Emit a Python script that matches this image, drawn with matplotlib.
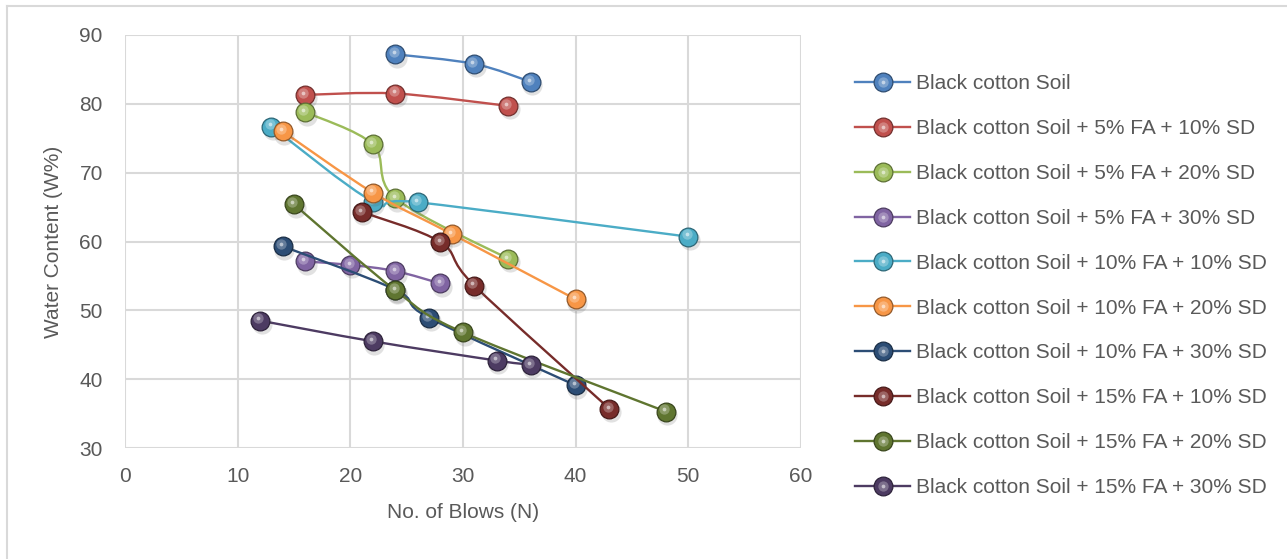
import matplotlib
matplotlib.use('Agg')
import matplotlib.pyplot as plt
import matplotlib.colors as mcolors
import matplotlib.transforms as mtransforms
from matplotlib.path import Path
from matplotlib.patches import PathPatch
from matplotlib.lines import Line2D
from matplotlib.legend_handler import HandlerTuple
import numpy as np

plt.rcParams['font.family'] = ['Liberation Sans', 'DejaVu Sans']

# series: No. of blows vs water content
bcs_x = [24, 31, 36]
bcs_y = [87.2, 85.8, 83.2]
fa5_sd10_x = [16, 24, 34]
fa5_sd10_y = [81.3, 81.5, 79.7]
fa5_sd20_x = [16, 22, 24, 34]
fa5_sd20_y = [78.8, 74.1, 66.3, 57.5]
fa5_sd30_x = [16, 20, 24, 28]
fa5_sd30_y = [57.1, 56.6, 55.7, 53.9]
fa10_sd10_x = [13, 22, 26, 50]
fa10_sd10_y = [76.7, 65.8, 65.7, 60.7]
fa10_sd20_x = [14, 22, 29, 40]
fa10_sd20_y = [76.0, 67.1, 61.1, 51.6]
fa10_sd30_x = [14, 24, 27, 40]
fa10_sd30_y = [59.3, 53.0, 48.9, 39.1]
fa15_sd10_x = [21, 28, 31, 43]
fa15_sd10_y = [64.3, 59.9, 53.6, 35.7]
fa15_sd20_x = [15, 24, 30, 48]
fa15_sd20_y = [65.4, 52.9, 46.8, 35.3]
fa15_sd30_x = [12, 22, 33, 36]
fa15_sd30_y = [48.5, 45.5, 42.7, 42.1]

labels = ['Black cotton Soil',
          'Black cotton Soil + 5% FA + 10% SD',
          'Black cotton Soil + 5% FA + 20% SD',
          'Black cotton Soil + 5% FA + 30% SD',
          'Black cotton Soil + 10% FA + 10% SD',
          'Black cotton Soil + 10% FA + 20% SD',
          'Black cotton Soil + 10% FA + 30% SD',
          'Black cotton Soil + 15% FA + 10% SD',
          'Black cotton Soil + 15% FA + 20% SD',
          'Black cotton Soil + 15% FA + 30% SD']
colors = ['#4F81BD', '#C0504D', '#9BBB59', '#8064A2', '#4BACC6',
          '#F79646', '#2C4D75', '#772C2A', '#5F7530', '#4D3B62']

series = [(bcs_x, bcs_y), (fa5_sd10_x, fa5_sd10_y), (fa5_sd20_x, fa5_sd20_y),
          (fa5_sd30_x, fa5_sd30_y), (fa10_sd10_x, fa10_sd10_y),
          (fa10_sd20_x, fa10_sd20_y), (fa10_sd30_x, fa10_sd30_y),
          (fa15_sd10_x, fa15_sd10_y), (fa15_sd20_x, fa15_sd20_y),
          (fa15_sd30_x, fa15_sd30_y)]

text_col = '#595959'
grid_col = '#D9D9D9'
ms = 13.5


def smooth_path(x, y):
    # Excel-style smoothed line: cubic bezier through the points
    pts = np.column_stack([x, y]).astype(float)
    n = len(pts)
    verts = [pts[0]]
    codes = [Path.MOVETO]
    for i in range(n - 1):
        p0 = pts[max(i - 1, 0)]
        p1, p2 = pts[i], pts[i + 1]
        p3 = pts[min(i + 2, n - 1)]
        verts += [p1 + (p2 - p0) / 6, p2 - (p3 - p1) / 6, p2]
        codes += [Path.CURVE4] * 3
    return Path(verts, codes)


def shades(c):
    rgb = np.array(mcolors.to_rgb(c))
    dark = rgb * 0.6
    light = rgb + (1 - rgb) * 0.45
    return dark, light


fig = plt.figure(figsize=(12.87, 5.59), dpi=100)
ax = fig.add_axes([125 / 1287, 1 - 448 / 559, 676 / 1287, 413 / 559])

shadow_tr = mtransforms.offset_copy(ax.transData, fig=fig, x=1.5, y=-3.5, units='dots')
hl_tr = mtransforms.offset_copy(ax.transData, fig=fig, x=-1.8, y=2.2, units='dots')

handles = []
for i, ((x, y), c) in enumerate(zip(series, colors)):
    z = 3 + i
    dark, light = shades(c)
    ax.add_patch(PathPatch(smooth_path(x, y), fc='none', ec=c, lw=1.7, zorder=z))
    ax.plot(x, y, 'o', ms=ms + 1, color='0.35', alpha=0.18, mec='none',
            transform=shadow_tr, zorder=z)
    ax.plot(x, y, 'o', ms=ms, mfc=c, mec=dark, mew=0.9, zorder=z + 0.1)
    ax.plot(x, y, 'o', ms=ms * 0.55, mfc=light, mec='none', alpha=0.6,
            transform=hl_tr, zorder=z + 0.2)
    ax.plot(x, y, 'o', ms=ms * 0.2, mfc='white', mec='none', alpha=0.55,
            transform=hl_tr, zorder=z + 0.3)
    base = Line2D([], [], color=c, lw=1.7, marker='o', ms=ms, mfc=c, mec=dark, mew=0.9)
    hl = Line2D([], [], ls='none', marker='o', ms=ms * 0.55, mfc=light, mec='none', alpha=0.6)
    spot = Line2D([], [], ls='none', marker='o', ms=ms * 0.2, mfc='white', mec='none', alpha=0.55)
    handles.append((base, hl, spot))

ax.set_xlim(0, 60)
ax.set_ylim(30, 90)
ax.set_xticks(np.arange(0, 61, 10))
ax.set_yticks(np.arange(30, 91, 10))
ax.grid(True, color=grid_col, lw=1.5)
ax.set_axisbelow(True)
for s in ax.spines.values():
    s.set_visible(False)
ax.tick_params(length=0, labelsize=15, labelcolor=text_col)
ax.tick_params(axis='y', pad=16)
ax.tick_params(axis='x', pad=14)
ax.set_xlabel('No. of Blows (N)', fontsize=15, color=text_col, labelpad=12)
ax.set_ylabel('Water Content (W%)', fontsize=15, color=text_col, labelpad=12)

fig.legend(handles, labels, loc='upper left', bbox_to_anchor=(845 / 1287, 1 - 64 / 559),
           frameon=False, fontsize=15, labelcolor=text_col,
           handler_map={tuple: HandlerTuple(ndivide=1, pad=0)},
           handlelength=2.6, handletextpad=0.3, labelspacing=1.24, borderpad=0)

# chart area border
fig.add_artist(Line2D([7 / 1287, 1], [1 - 6 / 559] * 2, color=grid_col, lw=1.5))
fig.add_artist(Line2D([7 / 1287] * 2, [0, 1 - 6 / 559], color=grid_col, lw=1.5))

fig.savefig('out.png', dpi=100)
